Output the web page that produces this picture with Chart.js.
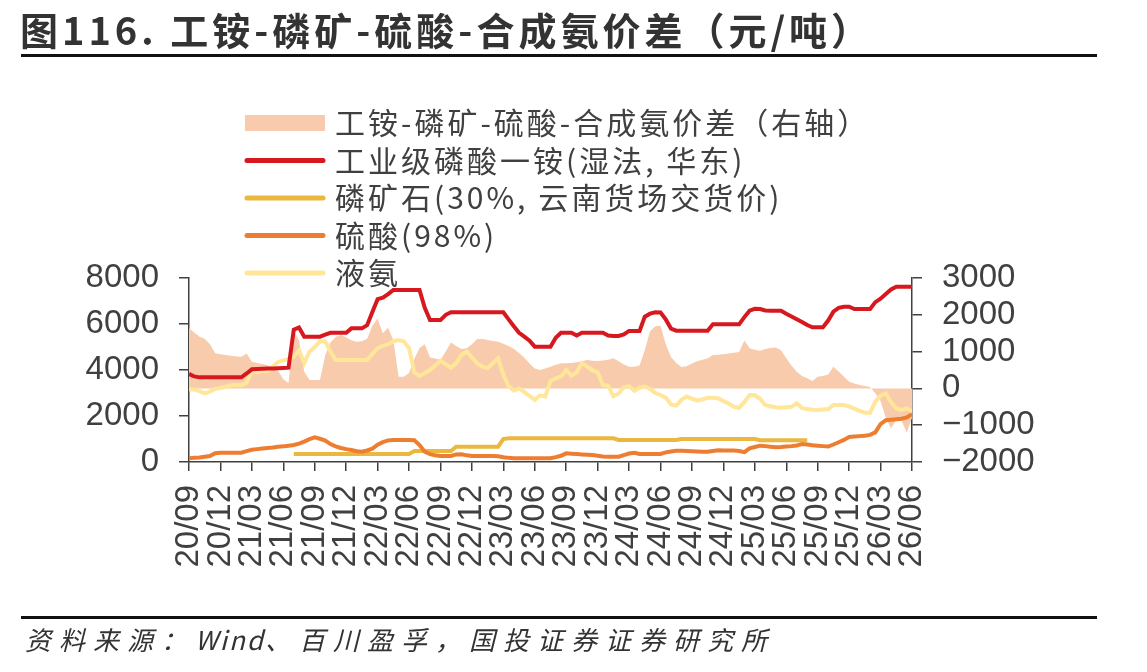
<!DOCTYPE html>
<html>
<head>
<meta charset="utf-8">
<script src="https://cdn.jsdelivr.net/npm/chart.js@4/dist/chart.umd.min.js"></script>
<style>
  html, body { margin: 0; padding: 0; background: #fff; }
  #wrap { position: relative; width: 1147px; height: 672px; overflow: hidden; }
  #chart { position: absolute; left: 0; top: 0; }
  .title {
    position: absolute; left: 20px; top: 5px;
    font: bold 38px "Noto Sans CJK SC", sans-serif; color: #333;
    letter-spacing: 4px; white-space: nowrap; line-height: 48px;
  }
  .rule { position: absolute; left: 21px; width: 1076px; height: 3px; background: #111; }
  .source {
    position: absolute; left: 25px; top: 620px;
    font: italic 26px "Noto Sans CJK SC", sans-serif; color: #333;
    letter-spacing: 8px; white-space: nowrap; line-height: 38px;
  }
  .source span { letter-spacing: 2px; }
</style>
</head>
<body>
<div id="wrap">
  <canvas id="chart" width="1147" height="672"></canvas>
  <div class="title">图116. 工铵-磷矿-硫酸-合成氨价差（元/吨）</div>
  <div class="rule" style="top:54px"></div>
  <div class="rule" style="top:616px"></div>
  <div class="source">资料来源：<span>Wind</span>、百川盈孚，国投证券证券研究所</div>
</div>
<script>
// 横轴：月份序号（0 = 2020/09，步长半个月）
const monthIndex = Array.from({length: 139}, (_, i) => i / 2);
const tickLabels = ['20/09','20/12','21/03','21/06','21/09','21/12','22/03','22/06','22/09','22/12',
  '23/03','23/06','23/09','23/12','24/03','24/06','24/09','24/12','25/03','25/06','25/09','25/12','26/03','26/06'];

const names = [
  '工铵-磷矿-硫酸-合成氨价差（右轴）',
  '工业级磷酸一铵(湿法, 华东)',
  '磷矿石(30%, 云南货场交货价)',
  '硫酸(98%)',
  '液氨'
];

// 价差（右轴）
const spread = [
  1633,1520,1405,1350,1200,954,930,907,890,870,
  861,950,725,690,660,630,560,480,250,150,
  1550,1300,450,228,228,228,900,1250,1400,1450,
  1380,1310,1270,1280,1350,1700,1900,1500,1650,1315,
  318,318,420,800,1100,1200,840,810,771,1000,
  1250,1150,1070,1090,1200,1340,1340,1315,1290,1265,
  1210,1150,1080,960,830,680,540,500,540,590,
  640,681,681,690,710,740,771,750,745,760,
  780,817,740,650,590,590,620,1043,1550,1690,
  1700,1200,850,690,580,600,680,740,780,820,
  907,915,930,945,970,990,1300,1088,1050,1020,
  1070,1100,1110,1040,817,620,450,340,274,200,
  318,340,380,590,460,320,180,130,92,65,
  40,-133,-350,-800,-1084,-860,-880,-1200,-800
];

// 工业级磷酸一铵
const map = [
  3830,3720,3680,3680,3680,3680,3680,3680,3680,3680,
  3680,3850,4030,4040,4050,4060,4070,4080,4090,4100,
  5750,5850,5450,5450,5450,5450,5540,5620,5620,5620,
  5620,5810,5810,5810,5950,6520,7080,7150,7300,7480,
  7480,7480,7480,7480,7480,6700,6170,6170,6170,6400,
  6510,6510,6510,6510,6510,6510,6510,6510,6510,6510,
  6510,6200,5900,5620,5450,5275,5014,5014,5014,5014,
  5400,5620,5620,5620,5500,5620,5620,5620,5620,5620,
  5500,5480,5480,5550,5700,5700,5700,6320,6450,6510,
  6500,6200,5800,5710,5710,5710,5710,5710,5710,5710,
  5985,5985,5985,5985,5985,5985,6300,6580,6660,6650,
  6590,6580,6580,6580,6450,6330,6210,6090,5956,5855,
  5855,5855,6150,6537,6700,6753,6753,6650,6650,6650,
  6650,6950,7100,7300,7500,7623,7623,7623,7623
];

// 磷矿石
const rock = [
  null,null,null,null,null,null,null,null,null,null,
  null,null,null,null,null,null,null,null,null,null,
  350,350,350,350,350,350,350,350,350,350,
  350,350,350,350,350,350,350,350,350,350,
  350,350,350,478,478,478,478,478,478,478,
  478,665,665,665,665,665,665,665,665,665,
  1000,1030,1030,1030,1030,1030,1030,1030,1030,1030,
  1030,1030,1030,1030,1030,1030,1030,1030,1030,1030,
  1030,1030,960,957,957,957,957,957,957,957,
  957,957,957,957,1000,1000,1000,1000,1000,1000,
  1000,1000,1000,1000,1000,1000,1000,1000,1000,943,
  943,943,943,943,943,943,943,943,943,null,
  null,null,null,null,null,null,null,null,null,null,
  null,null,null,null,null,null,null,null,null
];

// 硫酸
const acid = [
  160,180,200,230,260,380,405,405,405,405,
  405,470,530,560,590,610,630,660,680,710,
  737,800,890,990,1070,1010,930,780,680,610,
  560,520,470,450,500,580,750,860,940,957,
  957,960,957,950,737,450,340,290,260,260,
  260,330,340,290,260,260,260,260,260,250,
  210,180,165,160,160,160,160,160,160,160,
  210,270,377,360,345,330,315,300,270,240,
  232,232,232,300,370,400,348,348,348,348,
  348,420,460,490,490,480,470,460,450,449,
  480,507,500,500,495,480,430,595,650,710,
  690,660,640,650,670,690,720,780,760,730,
  710,690,670,760,860,960,1090,1110,1125,1140,
  1180,1290,1650,1820,1840,1860,1880,1940,2080
];

// 液氨
const ammonia = [
  3160,3150,3080,2980,3060,3180,3220,3270,3330,3350,
  3350,3450,3930,3900,3950,3950,4150,4350,4420,4480,
  4580,4850,4300,4800,5000,5250,5250,4800,4435,4435,
  4435,4435,4435,4435,4435,4700,4950,5050,5120,5250,
  5300,5250,4950,3900,3740,3870,4000,4200,4405,4250,
  4100,4300,4650,4800,4550,4290,4150,4080,4300,4509,
  3800,3300,3102,3200,3050,2870,2696,2900,2850,3520,
  3640,3720,4000,3750,3900,4300,4150,3980,3900,3348,
  3320,2855,2980,3250,3300,3100,3230,3290,3180,3000,
  2913,2800,2500,2450,2700,2850,2750,2680,2720,2797,
  2790,2770,2650,2540,2400,2360,2600,2913,2900,2750,
  2480,2420,2380,2363,2380,2400,2551,2350,2300,2270,
  2261,2280,2300,2478,2478,2478,2420,2320,2220,2145,
  2145,2623,2880,2980,2600,2330,2261,2333,2190
];

const colors = ['#F7CBAC', '#D7191F', '#EAB83E', '#ED7D31', '#FFE699'];
const inkColor = '#404040';

function pts(arr) {
  return monthIndex.map((m, i) => ({x: m, y: arr[i]}));
}

function lineSet(i, arr, order) {
  return {
    label: names[i], data: pts(arr), yAxisID: 'y',
    borderColor: colors[i], borderWidth: 4, pointRadius: 0,
    tension: 0, fill: false, order: order, spanGaps: false
  };
}

// 图例画在绘图区上方（和原图一样压在图上）
const legendPlugin = {
  id: 'fixedLegend',
  afterDraw(chart) {
    const c = chart.ctx;
    c.save();
    c.font = '30px "Noto Sans CJK SC", sans-serif';
    c.letterSpacing = '3px';
    c.textBaseline = 'middle';
    chart.data.datasets.forEach((ds, i) => {
      const y = 123 + i * 37.5;
      if (i === 0) {
        c.fillStyle = colors[0];
        c.fillRect(245, y - 8, 80, 16);
      } else {
        c.strokeStyle = colors[i];
        c.lineWidth = 5;
        c.lineCap = 'round';
        c.beginPath();
        c.moveTo(247, y);
        c.lineTo(323, y);
        c.stroke();
      }
      c.fillStyle = inkColor;
      c.fillText(ds.label, 335, y);
    });
    c.restore();
  }
};

const tickFont = {family: '"Liberation Sans", Arial, sans-serif', size: 33};

new Chart(document.getElementById('chart').getContext('2d'), {
  type: 'line',
  data: {
    datasets: [
      {
        label: names[0], data: pts(spread), yAxisID: 'y1',
        borderWidth: 0, borderColor: 'rgba(0,0,0,0)', backgroundColor: colors[0],
        pointRadius: 0, tension: 0, fill: 'origin', order: 10
      },
      lineSet(1, map, 1),
      lineSet(2, rock, 3),
      lineSet(3, acid, 2),
      lineSet(4, ammonia, 4)
    ]
  },
  options: {
    responsive: false,
    animation: false,
    layout: {padding: {top: 278, left: 0, right: 0, bottom: 0}},
    plugins: {legend: {display: false}, tooltip: {enabled: false}},
    scales: {
      x: {
        type: 'linear', min: 0, max: 69,
        afterFit: s => { s.height = 210; },
        ticks: {
          stepSize: 3, autoSkip: false, maxRotation: 90, minRotation: 90,
          font: tickFont, color: inkColor, padding: 14,
          callback: v => tickLabels[Math.round(v / 3)]
        },
        grid: {drawOnChartArea: false, tickLength: 9, color: inkColor, lineWidth: 1.5},
        border: {color: inkColor, width: 1.5}
      },
      y: {
        position: 'left', min: 0, max: 8000,
        afterFit: s => { s.width = 189; },
        ticks: {
          stepSize: 2000, autoSkip: false, font: tickFont, color: inkColor, padding: 20,
          callback: v => String(v)
        },
        grid: {drawOnChartArea: false, tickLength: 10, color: inkColor, lineWidth: 1.5},
        border: {color: inkColor, width: 1.5}
      },
      y1: {
        position: 'right', min: -2000, max: 3000,
        afterFit: s => { s.width = 1147 - 912; },
        ticks: {
          stepSize: 1000, autoSkip: false, font: tickFont, color: inkColor, padding: 20,
          callback: v => (v < 0 ? '\u2212' + Math.abs(v) : String(v))
        },
        grid: {drawOnChartArea: false, tickLength: 10, color: inkColor, lineWidth: 1.5},
        border: {color: inkColor, width: 1.5}
      }
    }
  },
  plugins: [legendPlugin]
});
</script>
</body>
</html>
